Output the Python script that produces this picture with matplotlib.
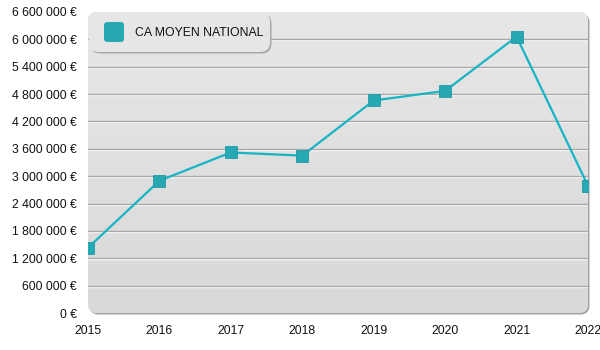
import numpy as np
import matplotlib
matplotlib.use("Agg")
import matplotlib.pyplot as plt
from matplotlib.patches import FancyBboxPatch
from matplotlib.transforms import IdentityTransform, offset_copy
from matplotlib.ticker import FuncFormatter, MultipleLocator

plt.rcParams['font.family'] = ['Liberation Sans', 'DejaVu Sans']

years = [2015, 2016, 2017, 2018, 2019, 2020, 2021, 2022]
ca_moyen = [1430000, 2900000, 3520000, 3450000, 4660000, 4870000, 6060000, 2790000]
series_label = "CA MOYEN NATIONAL"
y_max = 6600000
y_step = 600000

LINE = '#17b4c4'
MARK = '#27a9b3'

W, H, DPI = 600, 350, 100
fig = plt.figure(figsize=(W / DPI, H / DPI), dpi=DPI)
fig.patch.set_facecolor('white')

# axes box in pixels: left 88, right 588, top 12, bottom 313
L, R, T, B = 88, 588, 12, 313
ax = fig.add_axes([L / W, (H - B) / H, (R - L) / W, (B - T) / H])
ax.set_facecolor('none')
for s in ax.spines.values():
    s.set_visible(False)

ax.set_xlim(years[0], years[-1])
ax.set_ylim(0, y_max)

px = IdentityTransform()


def rounded(x, y, w, h, r, fc, z, clip=False):
    p = FancyBboxPatch((x, y), w, h, boxstyle=f"round,pad=0,rounding_size={r}",
                       transform=px, facecolor=fc, edgecolor='none', zorder=z)
    p.set_clip_on(clip)
    ax.add_patch(p)
    return p


# rounded plot panel with soft shadow
rad = 9
rounded(L + 1.5, H - B - 1.5, R - L, B - T, rad, '#a3a3a3', 0.1)
panel = rounded(L, H - B, R - L, B - T, rad, '#e0e0e0', 0.2)

grad = np.linspace(0, 1, 256).reshape(-1, 1)
top_c = np.array([0.905, 0.905, 0.905])
bot_c = np.array([0.850, 0.850, 0.850])
img = (top_c + (bot_c - top_c) * grad).reshape(256, 1, 3)
im = ax.imshow(img, extent=[years[0], years[-1], 0, y_max], aspect='auto',
               origin='upper', zorder=0.5, interpolation='bilinear')
im.set_clip_path(panel)

# grid lines: grey line with a white highlight just below
white_tr = offset_copy(ax.transData, fig=fig, x=0, y=-1.0, units='dots')
for yv in np.arange(y_step, y_max, y_step):
    ax.plot([years[0], years[-1]], [yv, yv], color='#ffffff', lw=1.0,
            transform=white_tr, zorder=1)
    ax.axhline(yv, color='#a8a8a8', lw=1.0, zorder=1.1)

ax.plot(years, ca_moyen, color=LINE, lw=1.6, zorder=3)
ax.plot(years, ca_moyen, linestyle='none', marker='s', markersize=9,
        markerfacecolor=MARK, markeredgecolor='#1f9aa5', markeredgewidth=0.6,
        zorder=4)

ax.yaxis.set_major_locator(MultipleLocator(y_step))
ax.yaxis.set_major_formatter(FuncFormatter(
    lambda v, p: f"{int(round(v)):,}".replace(",", " ") + " €"))
ax.set_xticks(years)
ax.set_xticklabels([str(y) for y in years])
ax.tick_params(axis='both', length=0, labelsize=8.8, colors='#111111')
ax.tick_params(axis='y', pad=8)
ax.tick_params(axis='x', pad=9)

# legend box
lx0, ly0, lx1, ly1 = 89, 12, 270, 52
rounded(lx0 + 1.5, H - ly1 - 1.5, lx1 - lx0, ly1 - ly0, 10, '#a8a8a8', 5)
rounded(lx0, H - ly1, lx1 - lx0, ly1 - ly0, 10, '#e6e6e6', 6)
rounded(104, H - 42, 20, 20, 3, MARK, 7)
ax.text(135, H - 32.5, series_label, transform=px, fontsize=8.8,
        color='#111111', va='center', ha='left', zorder=8)

fig.savefig('out.png', dpi=DPI)
